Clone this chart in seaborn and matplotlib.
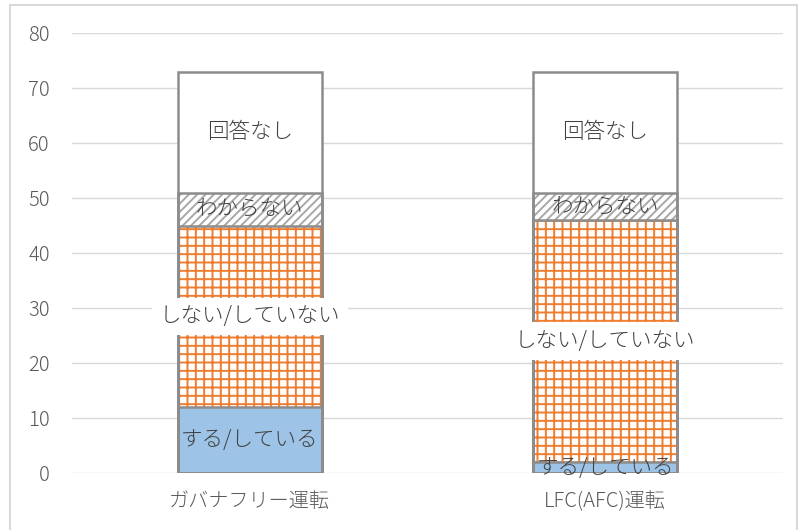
import matplotlib
matplotlib.use("Agg")
import matplotlib.pyplot as plt
import seaborn as sns
from matplotlib.patches import Rectangle

# Survey results per operating mode (stacked, bottom to top)
categories = ["ガバナフリー運転", "LFC(AFC)運転"]
segment_labels = ["する/している", "しない/していない", "わからない", "回答なし"]
yes_values = [12, 2]
no_values = [33, 44]
unknown_values = [6, 5]
no_answer_values = [22, 22]
y_ticks = [0, 10, 20, 30, 40, 50, 60, 70, 80]

sns.set_theme(style="white")
plt.rcParams["font.family"] = ["Noto Sans CJK JP", "DejaVu Sans"]
plt.rcParams["hatch.linewidth"] = 1.4

fig = plt.figure(figsize=(7.98, 5.30), dpi=100)
ax = fig.add_axes([72 / 798, 57 / 530, 711 / 798, 440 / 530])

series = [yes_values, no_values, unknown_values, no_answer_values]
# fill style per segment: (face, hatch, hatch colour)
styles = [
    ("#9dc3e6", None, "#9dc3e6"),
    ("white", "++", "#ed7d31"),
    ("white", "////", "#a8a8a8"),
    ("white", None, "white"),
]

# cumulative tops for each segment
cumulative = []
running = [0] * len(categories)
for vals in series:
    running = [r + v for r, v in zip(running, vals)]
    cumulative.append(list(running))

bar_width = 0.405

# draw from the tallest stack down so each segment covers the one below
for idx in reversed(range(len(series))):
    face, hatch, hcol = styles[idx]
    sns.barplot(x=categories, y=cumulative[idx], order=categories, width=bar_width,
                color=face, saturation=1, ax=ax, zorder=2)
    for patch in ax.containers[-1]:
        patch.set_facecolor(face)
        patch.set_edgecolor(hcol)
        patch.set_linewidth(0)
        if hatch:
            patch.set_hatch(hatch)

# grey outlines around every segment
for idx in range(len(series)):
    sns.barplot(x=categories, y=cumulative[idx], order=categories, width=bar_width,
                color="white", saturation=1, ax=ax, zorder=3)
    for patch in ax.containers[-1]:
        patch.set_facecolor("none")
        patch.set_edgecolor("#8c8c8c")
        patch.set_linewidth(1.8)

# segment labels at the middle of each segment
label_color = "#404040"
for idx, vals in enumerate(series):
    for ci, v in enumerate(vals):
        mid = cumulative[idx][ci] - v / 2
        kw = {}
        if idx == 1:
            kw["bbox"] = dict(boxstyle="square,pad=0.35", facecolor="white", edgecolor="none")
        ax.text(ci, mid, segment_labels[idx], ha="center", va="center",
                fontsize=15.5, fontweight="light", color=label_color, zorder=5, **kw)

ax.set_xlim(-0.5, 1.5)
ax.set_ylim(0, 80)
ax.set_yticks(y_ticks)
ax.set_xlabel("")
ax.set_ylabel("")
ax.yaxis.grid(True, color="#d9d9d9", linewidth=1)
ax.set_axisbelow(True)
for s in ax.spines.values():
    s.set_visible(False)
ax.tick_params(axis="y", length=0, pad=16, labelsize=14.5, labelcolor="#595959")
ax.tick_params(axis="x", length=0, pad=13, labelsize=14.5, labelcolor="#595959")
for lbl in ax.get_xticklabels() + ax.get_yticklabels():
    lbl.set_fontweight("light")

# light frame around the chart area
fig.patches.append(Rectangle((10 / 798, -0.02), 787 / 798, 1.02 - 5 / 530,
                             transform=fig.transFigure, facecolor="none",
                             edgecolor="#d9d9d9", linewidth=1.5))

fig.savefig("out.png", dpi=100)
